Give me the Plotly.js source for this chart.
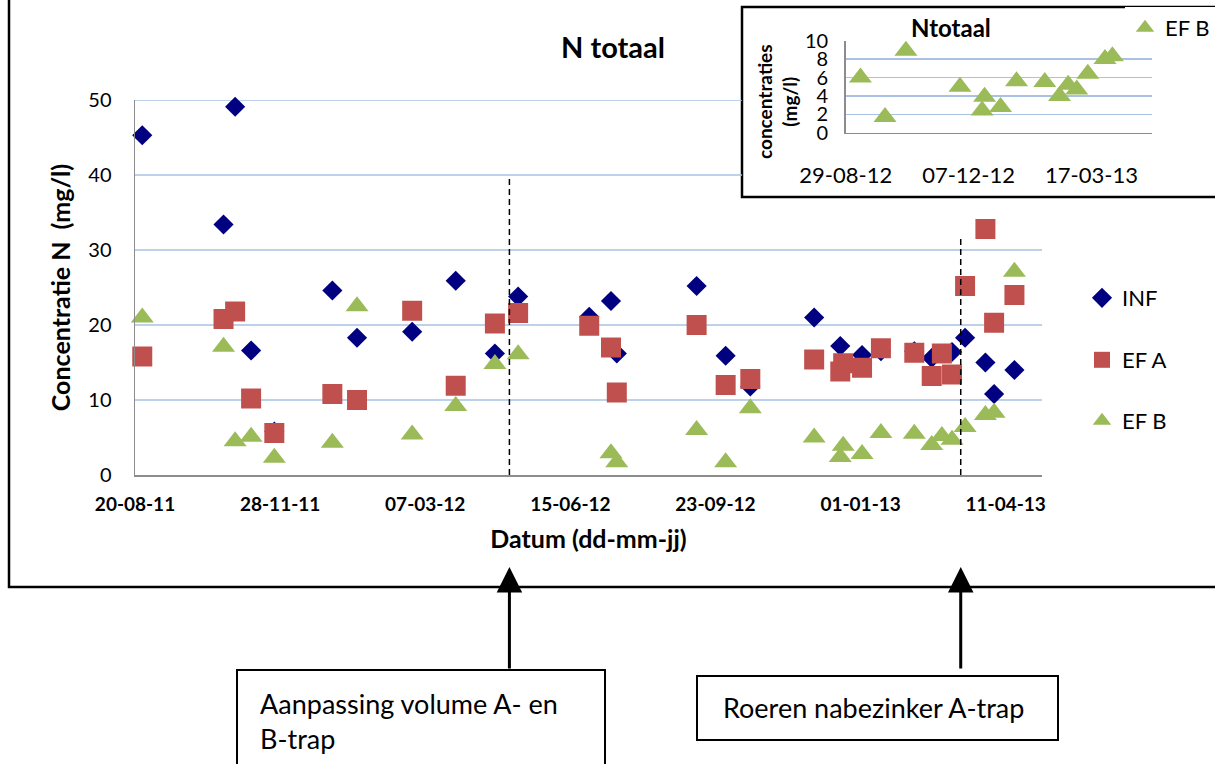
<!DOCTYPE html>
<html>
<head>
<meta charset="utf-8">
<script src="https://cdn.plot.ly/plotly-3.0.1.min.js"></script>
<style>html,body{margin:0;padding:0;background:#fff;}#chart{width:1215px;height:764px;}</style>
</head>
<body>
<div id="chart"></div>
<script>
// ---- data ----
const dates = ['2011-08-25','2011-10-20','2011-10-28','2011-11-08','2011-11-24','2012-01-03','2012-01-20','2012-02-27','2012-03-28','2012-04-24','2012-05-10','2012-06-28','2012-07-13','2012-07-17','2012-09-10','2012-09-30','2012-10-17','2012-11-30','2012-12-18','2012-12-20','2013-01-02','2013-01-15','2013-02-07','2013-02-19','2013-02-26','2013-03-05','2013-03-14','2013-03-28','2013-04-03','2013-04-17'];
const INF  = [45.3, 33.4, 49.1, 16.6, 5.8, 24.6, 18.3, 19.1, 25.9, 16.2, 23.8, 21.1, 23.2, 16.2, 25.2, 15.9, 11.8, 21.0, 17.2, null, 16.0, 16.5, 16.5, 15.6, null, 16.4, 18.3, 15.0, 10.8, 14.0];
const EF_A = [15.8, 20.8, 21.8, 10.2, 5.6, 10.8, 10.0, 21.9, 11.9, 20.2, 21.6, 19.9, 17.0, 11.0, 20.0, 12.0, 12.8, 15.4, 13.8, 14.9, 14.3, 16.9, 16.3, 13.2, 16.2, 13.4, 25.2, 32.8, 20.3, 24.0];
const EF_B = [21.0, 17.1, 4.5, 5.1, 2.3, 4.3, 22.5, 5.4, 9.2, 14.8, 16.1, null, 2.9, 1.7, 6.0, 1.7, 8.9, 5.0, 2.4, 3.9, 2.8, 5.6, 5.5, 4.0, 5.2, 4.7, 6.4, 8.0, 8.3, 27.1];
const seriesNames = ['INF', 'EF A', 'EF B'];
const yTicksMain = [10, 20, 30, 40, 50];
const eventDates = ['2012-05-04', '2013-03-11'];
const eventTexts = ['Aanpassing volume A- en<br>B-trap', 'Roeren nabezinker A-trap'];

// ---- helpers (pixel -> paper) ----
const W = 1215, H = 764;
const px = v => v / W;
const py = v => 1 - v / H;
const FONT = 'Lato';
const DAY = 86400000;
const gridCol = '#A9C2E4';
const axCol = '#8C8C8C';

const traces = [
  {x: dates, y: INF, name: seriesNames[0], type: 'scatter', mode: 'markers', cliponaxis: false,
   marker: {symbol: 'diamond', size: 15.5, color: '#000080'}, legend: 'legend', showlegend: true},
  {x: dates, y: EF_A, name: seriesNames[1], type: 'scatter', mode: 'markers', cliponaxis: false,
   marker: {symbol: 'square', size: 20, color: '#C0504D'}, legend: 'legend2', showlegend: true},
  {x: dates, y: EF_B, name: seriesNames[2], type: 'scatter', mode: 'markers', cliponaxis: false,
   marker: {symbol: 'triangle-up', size: 20, color: '#9BBB59'}, legend: 'legend3', showlegend: true},
  {x: dates, y: EF_B, name: seriesNames[2], type: 'scatter', mode: 'markers', cliponaxis: true,
   xaxis: 'x2', yaxis: 'y2', showlegend: true,
   marker: {symbol: 'triangle-up', size: 20, color: '#9BBB59'}, legend: 'legend4'}
];

const mainLeft = 135, mainRight = 1042, insetLeft = 742;
const shapes = [
  // outer chart frame
  {type: 'rect', xref: 'paper', yref: 'paper', x0: px(9), x1: 1.02, y0: py(587), y1: 1.02,
   line: {color: '#000', width: 2.5}, fillcolor: 'rgba(0,0,0,0)', layer: 'below'},
  // inset frame
  {type: 'rect', xref: 'paper', yref: 'paper', x0: px(insetLeft), x1: 1.02, y0: py(197), y1: py(7),
   line: {color: '#000', width: 2.5}, fillcolor: '#fff', layer: 'below'}
];
// main horizontal gridlines (stop at the inset frame where it covers them)
yTicksMain.forEach(v => {
  const pyv = 475 - v * 7.5;
  const end = pyv < 200 ? (insetLeft - mainLeft) / (mainRight - mainLeft) : 1;
  shapes.push({type: 'line', xref: 'x domain', yref: 'y', x0: 0, x1: end, y0: v, y1: v,
    line: {color: gridCol, width: 1.5}, layer: 'below'});
});
// dashed event lines
const eventTop = [39.6, 31.7];
eventDates.forEach((d, i) => {
  shapes.push({type: 'line', xref: 'x', yref: 'y', x0: d, x1: d, y0: 0, y1: eventTop[i],
    line: {color: '#000', width: 1.5, dash: '6px,4px'}});
});
// annotation boxes
shapes.push({type: 'rect', xref: 'paper', yref: 'paper', x0: px(237), x1: px(605), y0: -0.05, y1: py(670),
  line: {color: '#000', width: 2}, fillcolor: '#fff'});
shapes.push({type: 'rect', xref: 'paper', yref: 'paper', x0: px(697), x1: px(1058), y0: py(740), y1: py(676),
  line: {color: '#000', width: 2}, fillcolor: '#fff'});

const annotations = [
  // arrows
  ...eventDates.map(d => ({x: d, xref: 'x', y: py(567), yref: 'paper', text: '', showarrow: true,
    ax: 0, ay: 103, arrowhead: 2, arrowsize: 1.7, arrowwidth: 3, arrowcolor: '#000', standoff: 0})),
  // box texts
  {x: px(258), y: py(721), xref: 'paper', yref: 'paper', xanchor: 'left', yanchor: 'middle', align: 'left',
   showarrow: false, text: eventTexts[0], font: {family: FONT, size: 27, color: '#000'}},
  {x: px(721), y: py(707), xref: 'paper', yref: 'paper', xanchor: 'left', yanchor: 'middle', align: 'left',
   showarrow: false, text: eventTexts[1], font: {family: FONT, size: 27, color: '#000'}},
  // inset title and y title
  {x: px(951), y: py(28), xref: 'paper', yref: 'paper', xanchor: 'center', yanchor: 'middle',
   showarrow: false, text: 'Ntotaal', font: {family: FONT, size: 24, weight: 'bold', color: '#000'}},
  {x: px(777), y: py(102), xref: 'paper', yref: 'paper', xanchor: 'center', yanchor: 'middle',
   showarrow: false, textangle: -90, text: 'concentraties<br>(mg/l)',
   font: {family: FONT, size: 19, weight: 'bold', color: '#000'}}
];

const legendCommon = {xanchor: 'left', yanchor: 'middle', bgcolor: 'rgba(0,0,0,0)', borderwidth: 0,
  font: {family: FONT, size: 22, color: '#000'}, itemclick: false, itemdoubleclick: false, visible: true};

const layout = {
  width: W, height: H,
  margin: {l: 0, r: 0, t: 0, b: 0, pad: 0, autoexpand: false},
  paper_bgcolor: '#fff', plot_bgcolor: 'rgba(0,0,0,0)',
  font: {family: FONT, color: '#000'},
  hovermode: false,
  showlegend: true,
  title: {text: 'N totaal', x: px(613), xanchor: 'center', y: py(48), yanchor: 'middle',
    font: {family: FONT, size: 29, weight: 'bold', color: '#000'}},
  xaxis: {type: 'date', domain: [px(mainLeft), px(mainRight)], anchor: 'y',
    range: ['2011-08-20', '2013-05-06'], tick0: '2011-08-20', dtick: 100 * DAY, tickformat: '%d-%m-%y',
    showgrid: false, zeroline: false, showline: true, linecolor: axCol, linewidth: 1.5, ticks: '',
    ticklabelstandoff: 12, tickfont: {family: FONT, size: 19, weight: 'bold', color: '#000'},
    title: {text: 'Datum (dd-mm-jj)', standoff: 16, font: {family: FONT, size: 25, weight: 'bold', color: '#000'}}},
  yaxis: {domain: [py(475), py(100)], anchor: 'x', range: [0, 50], dtick: 10,
    showgrid: false, zeroline: false, showline: true, linecolor: axCol, linewidth: 1.5, ticks: '',
    ticklabelstandoff: 18, tickfont: {family: FONT, size: 20, color: '#000'},
    title: {text: 'Concentratie N \u00a0(mg/l)', standoff: 10, font: {family: FONT, size: 25, weight: 'bold', color: '#000'}}},
  xaxis2: {type: 'date', domain: [px(845.7), px(1151.7)], anchor: 'y2',
    range: ['2012-08-29', '2013-05-05'], tick0: '2012-08-29', dtick: 100 * DAY, tickformat: '%d-%m-%y',
    showgrid: false, zeroline: false, showline: true, linecolor: axCol, linewidth: 1.5, ticks: '',
    ticklabelstandoff: 22, tickfont: {family: FONT, size: 22, color: '#000'}},
  yaxis2: {domain: [py(132.7), py(40.7)], anchor: 'x2', range: [0, 10], dtick: 2,
    showgrid: true, gridcolor: gridCol, gridwidth: 1.5, zeroline: false, showline: true, linecolor: axCol, linewidth: 1.5,
    ticks: '', ticklabelstandoff: 12, tickfont: {family: FONT, size: 20, color: '#000'}},
  legend: Object.assign({x: px(1082), y: py(298)}, legendCommon),
  legend2: Object.assign({x: px(1082), y: py(360)}, legendCommon),
  legend3: Object.assign({x: px(1082), y: py(421)}, legendCommon),
  legend4: Object.assign({}, legendCommon, {x: 1, xanchor: 'right', y: py(28), bgcolor: '#fff'}),
  shapes: shapes,
  annotations: annotations
};

Plotly.newPlot('chart', traces, layout, {displayModeBar: false, staticPlot: true});
</script>
</body>
</html>
